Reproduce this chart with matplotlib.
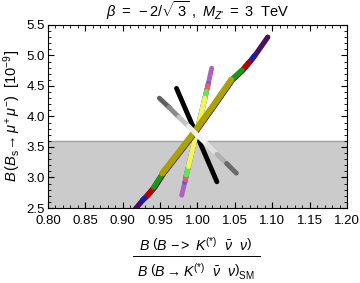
import matplotlib
matplotlib.use("Agg")
import matplotlib.pyplot as plt
from matplotlib.lines import Line2D
from matplotlib.collections import LineCollection
from matplotlib.ticker import MultipleLocator

plt.rcParams['font.family'] = ['Liberation Sans', 'DejaVu Sans']
plt.rcParams['mathtext.fontset'] = 'custom'
plt.rcParams['mathtext.rm'] = 'Liberation Sans'
plt.rcParams['mathtext.it'] = 'Liberation Sans:italic'
plt.rcParams['mathtext.bf'] = 'Liberation Sans:bold'

# banda principal: varias curvas sobrepostas com o mesmo formato
banda_x = [0.912, 0.918, 0.927, 0.934, 0.943, 0.955, 0.976, 0.998, 1.022, 1.047, 1.061, 1.070, 1.077, 1.094]
banda_y = [2.40, 2.50, 2.63, 2.71, 2.84, 3.07, 3.40, 3.75, 4.16, 4.60, 4.76, 4.89, 5.00, 5.30]
# (cor, indice inicial, indice final, largura)
banda_series = [('#4a0f62', 0, 13, 3.8),
                ('#1c1ca8', 2, 12, 3.8),
                ('#b80000', 3, 11, 3.8),
                ('#1a961a', 4, 10, 3.8),
                ('#aba200', 5, 9, 4.4)]

# linha magenta / amarela
mag_x = [0.979, 0.983, 0.984, 0.985, 0.988, 0.998, 1.010, 1.012, 1.014, 1.0145, 1.019]
mag_y = [2.71, 2.92, 2.96, 3.04, 3.18, 3.70, 4.30, 4.41, 4.51, 4.54, 4.79]
mag_series = [('#b060c0', 0, 10),
              ('#5a5ae8', 1, 9),
              ('#f05a5a', 2, 8),
              ('#5ae85a', 3, 7),
              ('#f4f45a', 4, 6)]

# linha preta
preta_x = [0.972, 1.026]
preta_y = [4.46, 2.93]

# linha cinza (gradiente)
cinza_x = [0.949, 0.962, 0.975, 0.988, 1.000, 1.013, 1.026, 1.039, 1.052]
cinza_y = [4.30, 4.15, 3.99, 3.84, 3.69, 3.54, 3.38, 3.23, 3.07]
cinza_cor = ['#606060', '#8a8a8a', '#c4c4c4', '#ececec', '#f4f4f4', '#e0e0e0', '#b0b0b0', '#6a6a6a']

faixa_y = [2.5, 3.6]


def segs(xs, ys):
    return [[(xs[i], ys[i]), (xs[i + 1], ys[i + 1])] for i in range(len(xs) - 1)]


fig = plt.figure(figsize=(3.6, 2.83), dpi=100)
ax = fig.add_axes([0.133, 0.265, 0.831, 0.647])

ax.axhspan(faixa_y[0], faixa_y[1], color='#cbcbcb', zorder=0, lw=0)
ax.axhline(faixa_y[1], color='#a0a0a0', lw=1.0, zorder=0.5)

ax.plot(preta_x, preta_y, color='black', lw=3.5, solid_capstyle='round', zorder=1.5)

z = 2
for cor, i0, i1 in mag_series:
    ax.plot(mag_x[i0:i1 + 1], mag_y[i0:i1 + 1], color=cor, lw=3.5,
            solid_capstyle='round', solid_joinstyle='round', zorder=z)
    z += 0.1

z = 3
for k, (cor, i0, i1, lw) in enumerate(banda_series):
    dx = -0.0005 * k
    ax.plot([x + dx for x in banda_x[i0:i1 + 1]], banda_y[i0:i1 + 1], color=cor, lw=lw,
            solid_capstyle='round', solid_joinstyle='round', zorder=z)
    z += 0.1

ax.add_collection(LineCollection(segs(cinza_x, cinza_y), colors=cinza_cor, linewidths=3.5,
                                 capstyle='round', zorder=5))

ax.set_xlim(0.8, 1.2)
ax.set_ylim(2.5, 5.5)
ax.xaxis.set_major_locator(MultipleLocator(0.05))
ax.xaxis.set_minor_locator(MultipleLocator(0.01))
ax.yaxis.set_major_locator(MultipleLocator(0.5))
ax.yaxis.set_minor_locator(MultipleLocator(0.1))
ax.xaxis.set_major_formatter(plt.FormatStrFormatter('%.2f'))
ax.yaxis.set_major_formatter(plt.FormatStrFormatter('%.1f'))
ax.tick_params(which='both', direction='in', top=True, right=True, labelsize=9.5)
ax.tick_params(axis='x', pad=5)
ax.tick_params(axis='y', pad=2)
ax.tick_params(which='major', length=4)
ax.tick_params(which='minor', length=2)

ax.set_title(r"$\beta\ =\ -2/\sqrt{\,3}\ ,\ M_{Z\text{'}}\ =\ 3\ \ \mathrm{TeV}$", fontsize=10.5, pad=6)
ax.set_ylabel(r"$B\,(B_{\mathrm{s}}\!\rightarrow\mu^{+}\,\mu^{-})\ \ [10^{-9}]$", fontsize=10.5, labelpad=3)

# rotulo do eixo x como fracao
xc = 196 / 360
fig.text(xc, 1 - 245 / 283, r"$B\ \left(B\ {-}{>}\ K^{(*)}\ \ \bar{\nu}\ \ \nu\right)$",
         ha='center', va='center', fontsize=10.2)
fig.text(xc, 1 - 272 / 283, r"$B\ \left(B\rightarrow K^{(*)}\ \ \bar{\nu}\ \ \nu\right)_{\mathrm{SM}}$",
         ha='center', va='center', fontsize=10.2)
fig.add_artist(Line2D([133 / 360, 260 / 360], [1 - 256 / 283, 1 - 256 / 283],
                      color='black', lw=0.7, transform=fig.transFigure))

fig.savefig("out.png", dpi=100)
